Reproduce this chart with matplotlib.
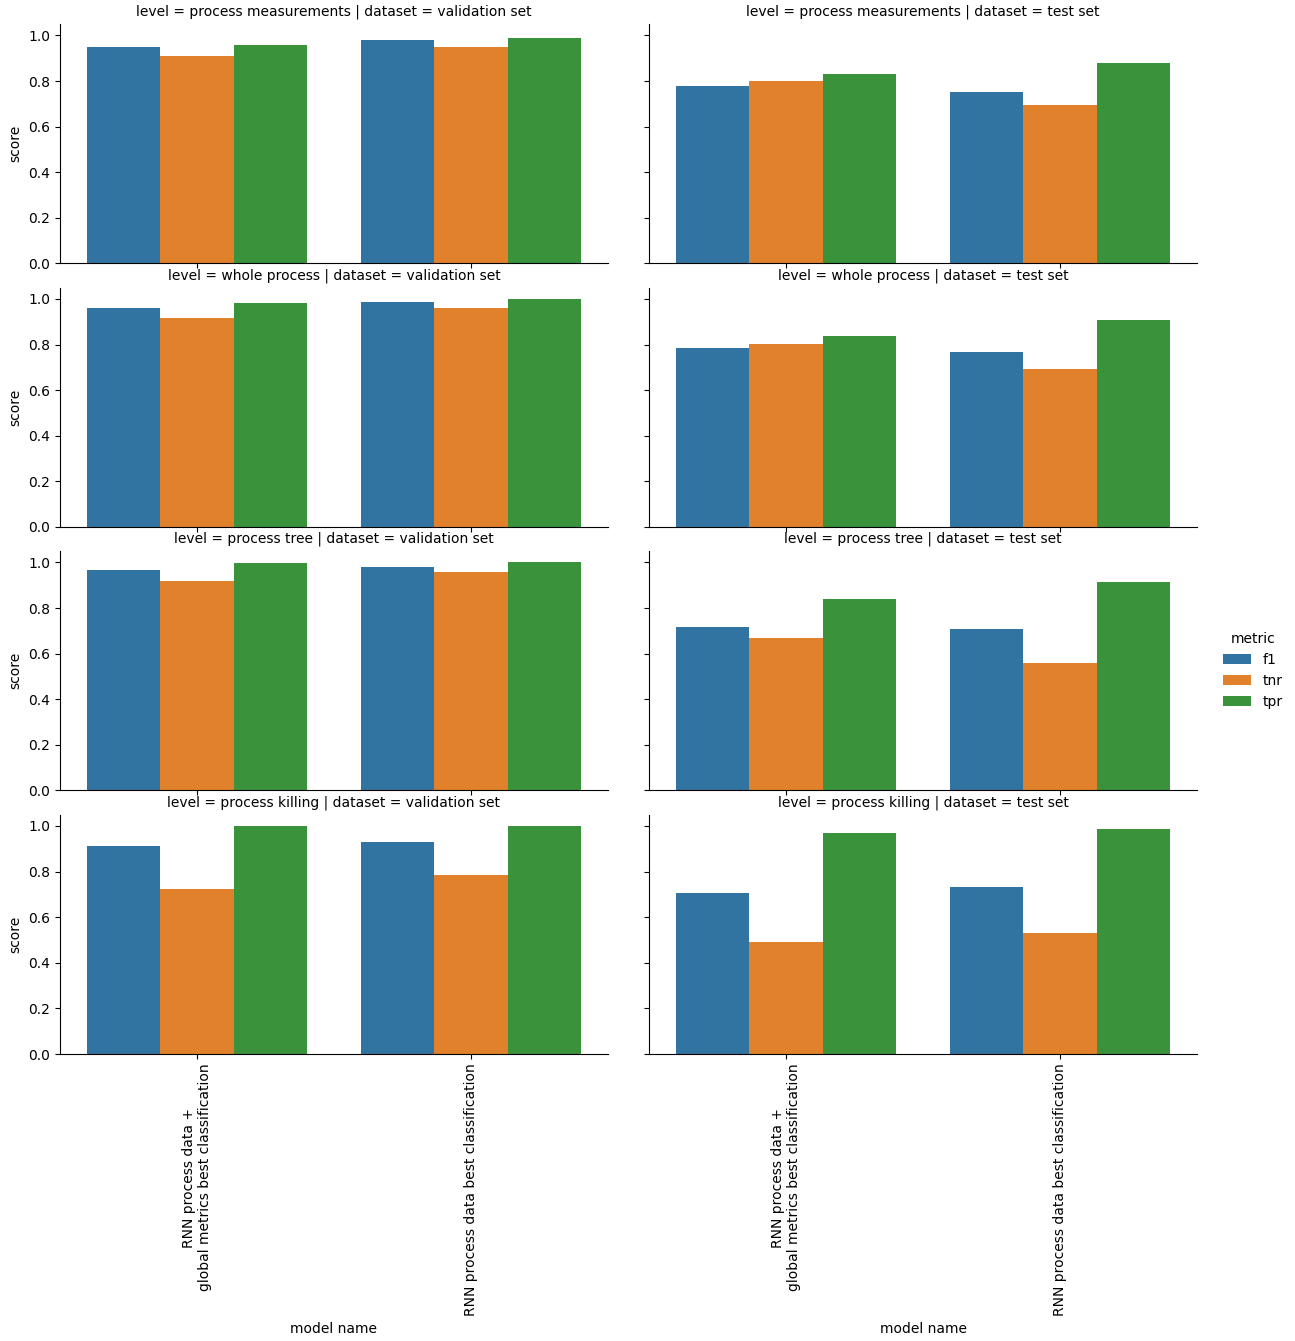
import pandas as pd
import seaborn as sns
import matplotlib
matplotlib.use("Agg")
import matplotlib.pyplot as plt

# categorias del grafico
levels = ["process measurements", "whole process", "process tree", "process killing"]
datasets = ["validation set", "test set"]
models = ["RNN process data +\nglobal metrics best classification",
          "RNN process data best classification"]
metrics = ["f1", "tnr", "tpr"]

# valores: [modelo] -> (f1, tnr, tpr)
pm_val = [[0.947, 0.908, 0.960], [0.978, 0.947, 0.987]]
pm_test = [[0.776, 0.798, 0.829], [0.750, 0.697, 0.877]]
wp_val = [[0.961, 0.917, 0.983], [0.987, 0.961, 0.999]]
wp_test = [[0.786, 0.803, 0.838], [0.769, 0.694, 0.908]]
pt_val = [[0.965, 0.917, 0.998], [0.982, 0.960, 1.000]]
pt_test = [[0.715, 0.667, 0.838], [0.710, 0.557, 0.912]]
pk_val = [[0.912, 0.724, 1.000], [0.930, 0.785, 1.000]]
pk_test = [[0.706, 0.491, 0.969], [0.732, 0.530, 0.987]]

scores = {
    "process measurements": (pm_val, pm_test),
    "whole process": (wp_val, wp_test),
    "process tree": (pt_val, pt_test),
    "process killing": (pk_val, pk_test),
}

rows = []
for lv in levels:
    for ds, vals in zip(datasets, scores[lv]):
        for m, mv in zip(models, vals):
            for met, s in zip(metrics, mv):
                rows.append({"level": lv, "dataset": ds, "model name": m,
                             "metric": met, "score": s})
df = pd.DataFrame(rows)

g = sns.catplot(data=df, x="model name", y="score", hue="metric",
                row="level", col="dataset", kind="bar",
                height=13.41 / 4, aspect=1.8, errorbar=None)
g.figure.set_size_inches(12.95, 13.41)
for ax in g.axes.flat:
    ax.tick_params(axis="x", labelrotation=90)

# posiciones de los ejes como en la figura original
W, H = 1295, 1341
g.figure.subplots_adjust(left=60 / W, right=1197 / W, top=1 - 24 / H,
                         bottom=1 - 1054 / H, hspace=24 / 239, wspace=41 / 547)
g.figure.savefig("out.png", dpi=100)
